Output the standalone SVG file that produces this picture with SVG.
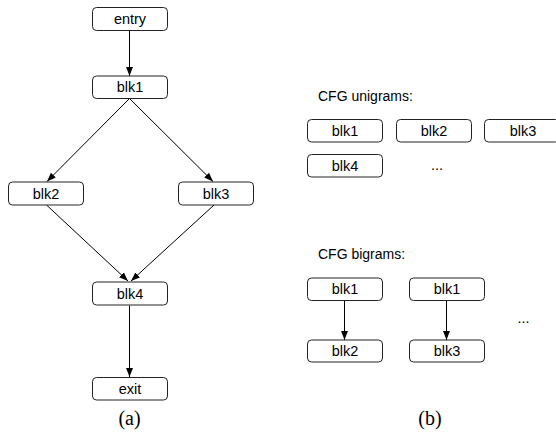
<svg xmlns="http://www.w3.org/2000/svg" width="556" height="434" viewBox="0 0 556 434">
  <style>
    .box { fill: #ffffff; stroke: #222222; stroke-width: 1; }
    .lbl { font-family: "Liberation Sans", Arial, sans-serif; font-size: 14.5px; fill: #000000; text-anchor: middle; }
    .hdr { font-family: "Liberation Sans", Arial, sans-serif; font-size: 14px; fill: #000000; }
    .cap { font-family: "Liberation Serif", "Times New Roman", serif; font-size: 20px; fill: #000000; text-anchor: middle; }
    .edge { stroke: #000000; stroke-width: 1; fill: none; marker-end: url(#arrow); }
  </style>
  <defs>
    <marker id="arrow" viewBox="0 0 10 10" refX="10" refY="5" markerWidth="9" markerHeight="9" markerUnits="userSpaceOnUse" orient="auto">
      <path d="M0,1.2 L10,5 L0,8.8 Z" fill="#000000"/>
    </marker>
  </defs>

  <rect width="556" height="434" fill="#ffffff"/>

  <!-- (a) control flow graph -->
  <g id="connectors">
    <line class="edge" x1="129.5" y1="30.5" x2="129.5" y2="76"/>
    <line class="edge" x1="129.5" y1="98.5" x2="47" y2="181.5"/>
    <line class="edge" x1="129.5" y1="98.5" x2="213" y2="181.5"/>
    <line class="edge" x1="46.5" y1="205" x2="128" y2="281"/>
    <line class="edge" x1="214" y1="205" x2="131" y2="281"/>
    <line class="edge" x1="129.5" y1="305.5" x2="129.5" y2="377"/>
    <line class="edge" x1="344.5" y1="300.5" x2="344.5" y2="340"/>
    <line class="edge" x1="446.5" y1="300.5" x2="446.5" y2="340"/>
  </g>

  <g id="entry">
    <rect class="box" x="92.5" y="7.5" width="75" height="23" rx="4"/>
    <text class="lbl" x="130" y="24">entry</text>
  </g>
  <g id="blk1">
    <rect class="box" x="92.5" y="76" width="75" height="22.5" rx="4"/>
    <text class="lbl" x="130" y="92">blk1</text>
  </g>
  <g id="blk2">
    <rect class="box" x="8.5" y="182" width="75" height="23" rx="4"/>
    <text class="lbl" x="46" y="198.5">blk2</text>
  </g>
  <g id="blk3">
    <rect class="box" x="178.5" y="182" width="75" height="23" rx="4"/>
    <text class="lbl" x="216" y="198.5">blk3</text>
  </g>
  <g id="blk4">
    <rect class="box" x="92.5" y="282" width="75" height="23" rx="4"/>
    <text class="lbl" x="130" y="298.5">blk4</text>
  </g>
  <g id="exit">
    <rect class="box" x="92.5" y="377.5" width="75" height="22.5" rx="4"/>
    <text class="lbl" x="130" y="393.5">exit</text>
  </g>
  <text class="cap" x="129.5" y="425">(a)</text>

  <!-- (b) unigram and bigram features -->
  <text class="hdr" x="318" y="101">CFG unigrams:</text>
  <g id="uni-blk1">
    <rect class="box" x="307.5" y="119.5" width="75" height="22.5" rx="4"/>
    <text class="lbl" x="345" y="135.5">blk1</text>
  </g>
  <g id="uni-blk2">
    <rect class="box" x="396.5" y="119.5" width="75" height="22.5" rx="4"/>
    <text class="lbl" x="434" y="135.5">blk2</text>
  </g>
  <g id="uni-blk3">
    <rect class="box" x="484.5" y="119.5" width="75" height="22.5" rx="4"/>
    <text class="lbl" x="523" y="135.5">blk3</text>
  </g>
  <g id="uni-blk4">
    <rect class="box" x="307.5" y="154.5" width="75" height="22.5" rx="4"/>
    <text class="lbl" x="345" y="170.5">blk4</text>
  </g>
  <text class="lbl" x="437" y="170">...</text>

  <text class="hdr" x="318" y="259">CFG bigrams:</text>
  <g id="bi-blk1-a">
    <rect class="box" x="307.5" y="278" width="75" height="22.5" rx="4"/>
    <text class="lbl" x="345" y="294">blk1</text>
  </g>
  <g id="bi-blk2">
    <rect class="box" x="307.5" y="340" width="75" height="22" rx="4"/>
    <text class="lbl" x="345" y="356">blk2</text>
  </g>
  <g id="bi-blk1-b">
    <rect class="box" x="409.5" y="278" width="75" height="22.5" rx="4"/>
    <text class="lbl" x="447" y="294">blk1</text>
  </g>
  <g id="bi-blk3">
    <rect class="box" x="409.5" y="340" width="75" height="22" rx="4"/>
    <text class="lbl" x="447" y="356">blk3</text>
  </g>
  <text class="lbl" x="523.5" y="323">...</text>
  <text class="cap" x="430" y="425">(b)</text>
</svg>
